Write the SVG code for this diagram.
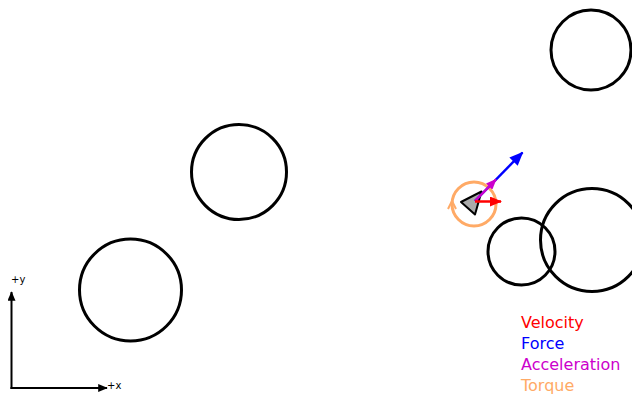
<svg xmlns="http://www.w3.org/2000/svg" width="632" height="397" viewBox="0 0 632 397">
<defs>
<style>
.body{fill:none;stroke:#000;stroke-width:3}
.lbl{font-family:"DejaVu Sans",sans-serif;font-size:16px}
.ax{font-family:"DejaVu Sans",sans-serif;font-size:10px;fill:#000}
.axis{stroke:#000;stroke-width:2}
</style>
<marker id="ah-k" viewBox="0 0 12 10" refX="11" refY="5" markerWidth="13" markerHeight="8" markerUnits="userSpaceOnUse" orient="auto"><path d="M0,0 L12,5 L0,10 z" fill="#000"/></marker>
<marker id="ah-r" viewBox="0 0 12 10" refX="11" refY="5" markerWidth="12" markerHeight="10" markerUnits="userSpaceOnUse" orient="auto"><path d="M0,0 L12,5 L0,10 z" fill="#f00"/></marker>
<marker id="ah-b" viewBox="0 0 12 10" refX="11" refY="5" markerWidth="14" markerHeight="12" markerUnits="userSpaceOnUse" orient="auto"><path d="M0,0 L12,5 L0,10 z" fill="#00f"/></marker>
<marker id="ah-m" viewBox="0 0 12 10" refX="11" refY="5" markerWidth="11" markerHeight="9" markerUnits="userSpaceOnUse" orient="auto"><path d="M0,0 L12,5 L0,10 z" fill="#c0c"/></marker>
</defs>
<rect width="632" height="397" fill="#fff"/>
<g id="body1"><circle class="body" cx="591" cy="50" r="40"/></g>
<g id="body2"><circle class="body" cx="239" cy="172" r="47.5"/></g>
<g id="body3"><circle class="body" cx="130.5" cy="290" r="51"/></g>
<g id="body4"><circle class="body" cx="521.5" cy="251.5" r="33.5"/></g>
<g id="body5"><circle class="body" cx="592" cy="240" r="51.5"/></g>
<g id="ship">
<circle cx="474" cy="204" r="22" fill="none" stroke="#ffaa66" stroke-width="3"/>
<path d="M448,209 L452,201 L456,209" fill="none" stroke="#ffaa66" stroke-width="2"/>
<polygon points="461,202 481.5,191.5 475,214.5" fill="#aaa" stroke="#000" stroke-width="2" stroke-linejoin="round"/>
</g>
<g id="connectors">
<line x1="475" y1="201" x2="522.5" y2="152.5" stroke="#00f" stroke-width="2.5" marker-end="url(#ah-b)"/>
<line x1="475" y1="201" x2="496" y2="179.5" stroke="#c0c" stroke-width="2.5" marker-end="url(#ah-m)"/>
<line x1="475" y1="201.5" x2="501" y2="201.5" stroke="#f00" stroke-width="2.5" marker-end="url(#ah-r)"/>
<line class="axis" x1="10.5" y1="388" x2="107" y2="388" marker-end="url(#ah-k)"/>
<line class="axis" x1="11.5" y1="389" x2="11.5" y2="292" marker-end="url(#ah-k)"/>
</g>
<g id="axes-labels">
<text class="ax" x="11" y="283">+y</text>
<text class="ax" x="107" y="389">+x</text>
</g>
<g id="legend">
<text class="lbl" x="521" y="328" fill="#f00">Velocity</text>
<text class="lbl" x="521" y="349" fill="#00f">Force</text>
<text class="lbl" x="521" y="370" fill="#c0c">Acceleration</text>
<text class="lbl" x="521" y="391" fill="#ffaa66">Torque</text>
</g>
</svg>
